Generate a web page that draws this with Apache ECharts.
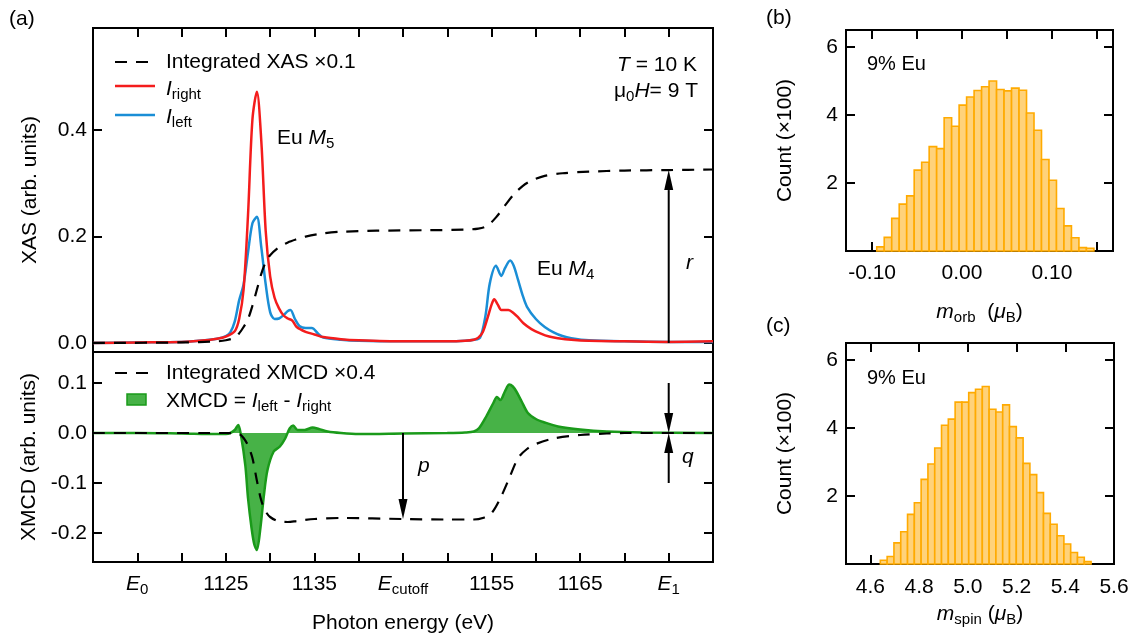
<!DOCTYPE html>
<html>
<head>
<meta charset="utf-8">
<title>Eu M4,5 XAS / XMCD</title>
<script src="https://cdn.jsdelivr.net/npm/echarts@6/dist/echarts.min.js"></script>
<style>
html, body { margin: 0; padding: 0; background: #fff; }
#main { width: 1137px; height: 637px; }
</style>
</head>
<body>
<div id="main"></div>
<script>
// ---- data ----
// (a) top: XAS, [energy eV, value]
const iRight = [
  [1110,0.000],[1115,0.001],[1120,0.002],[1122,0.004],[1124,0.008],[1125,0.012],[1126,0.022],
  [1126.5,0.045],[1127,0.10],[1127.5,0.24],[1128,0.42],[1128.5,0.472],[1129,0.38],[1129.5,0.21],
  [1130,0.125],[1130.5,0.085],[1131,0.065],[1131.5,0.052],[1132,0.046],[1132.5,0.042],[1133,0.030],
  [1134,0.021],[1135,0.016],[1136,0.011],[1138,0.007],[1140,0.005],[1145,0.003],[1150,0.003],
  [1152,0.004],[1153,0.006],[1153.5,0.010],[1154,0.020],[1154.6,0.050],[1155,0.072],[1155.3,0.082],
  [1155.7,0.072],[1156.1,0.062],[1156.5,0.062],[1156.9,0.062],[1157.5,0.056],[1158,0.048],
  [1158.6,0.037],[1159.5,0.026],[1160.5,0.018],[1161.5,0.012],[1162.5,0.009],[1164,0.006],
  [1166,0.004],[1170,0.003],[1175,0.002],[1180,0.003]
];
const iLeft = [
  [1110,0.000],[1115,0.001],[1120,0.002],[1122,0.004],[1124,0.008],[1125,0.013],[1125.5,0.020],
  [1126,0.040],[1126.5,0.080],[1127,0.110],[1127.5,0.170],[1128,0.225],[1128.5,0.237],[1129,0.180],
  [1129.5,0.110],[1130,0.058],[1130.5,0.045],[1131,0.046],[1131.5,0.052],[1132,0.060],[1132.3,0.062],
  [1132.8,0.045],[1133.3,0.032],[1134,0.028],[1134.7,0.028],[1135.5,0.016],[1136,0.010],[1138,0.006],
  [1140,0.004],[1145,0.003],[1150,0.003],[1152,0.004],[1153,0.006],[1153.7,0.010],[1154.3,0.050],
  [1154.8,0.112],[1155.5,0.145],[1156.1,0.126],[1156.5,0.140],[1157.1,0.155],[1157.5,0.145],
  [1158,0.118],[1158.5,0.090],[1159,0.068],[1160,0.045],[1161,0.030],[1162,0.020],[1163,0.013],
  [1164,0.009],[1166,0.005],[1170,0.003],[1175,0.002],[1180,0.002]
];
const intXas = [
  [1110,0.000],[1120,0.001],[1124,0.003],[1125,0.005],[1126,0.010],[1126.5,0.018],[1127,0.030],
  [1127.5,0.045],[1128,0.070],[1128.5,0.100],[1129,0.130],[1129.5,0.152],[1130,0.165],[1131,0.180],
  [1132,0.189],[1133,0.195],[1134,0.200],[1136,0.206],[1138,0.209],[1142,0.211],[1148,0.212],
  [1152,0.213],[1153.5,0.215],[1154.5,0.220],[1155.5,0.236],[1156.5,0.258],[1157.5,0.279],
  [1158.5,0.295],[1159.5,0.305],[1161,0.314],[1163,0.319],[1166,0.322],[1170,0.324],[1175,0.325],
  [1180,0.326]
];
// (a) bottom: XMCD
const xmcd = [
  [1110,0.000],[1115,0.000],[1120,-0.001],[1124,-0.002],[1125,-0.002],[1125.5,0.000],[1126,0.006],
  [1126.4,0.016],[1126.7,-0.004],[1127.2,-0.065],[1127.5,-0.130],[1127.9,-0.190],[1128.2,-0.222],
  [1128.5,-0.234],[1128.9,-0.190],[1129.3,-0.124],[1129.7,-0.074],[1130.4,-0.037],[1131.1,-0.027],
  [1131.7,-0.011],[1132.2,0.009],[1132.6,0.015],[1133.1,0.006],[1133.9,0.006],[1134.8,0.011],
  [1135.5,0.008],[1136.5,0.003],[1138,0.000],[1140,-0.002],[1145,-0.001],[1150,0.000],[1152,0.001],
  [1153,0.003],[1153.6,0.010],[1154.4,0.033],[1155.2,0.060],[1155.6,0.072],[1156,0.066],
  [1156.5,0.083],[1157,0.097],[1157.4,0.093],[1157.8,0.083],[1158.4,0.063],[1159.1,0.040],
  [1160,0.028],[1161,0.021],[1162.5,0.013],[1165,0.007],[1168,0.003],[1172,0.001],[1180,0.000]
];
const intXmcd = [
  [1110,0.000],[1125,0.000],[1126.5,-0.002],[1127,-0.010],[1127.5,-0.025],[1128,-0.050],
  [1128.5,-0.095],[1129,-0.135],[1129.5,-0.157],[1130,-0.168],[1131,-0.177],[1132,-0.178],
  [1133,-0.176],[1135,-0.172],[1138,-0.170],[1145,-0.172],[1150,-0.173],[1153,-0.173],
  [1154,-0.170],[1155,-0.160],[1156,-0.130],[1157,-0.090],[1158,-0.050],[1159,-0.032],
  [1160,-0.022],[1162,-0.011],[1165,-0.004],[1168,-0.001],[1170,0.000],[1180,0.000]
];
// arrows [energy, from, to]
const arrowsXas = [[1175, 0, 0.325]];
const arrowsXmcd = [[1145, 0, -0.172], [1175, 0.1, 0], [1175, -0.1, 0]];

// ticks
const energyTicks = [1115,1120,1125,1130,1135,1140,1145,1150,1155,1160,1165,1170,1175];
const energyLabelValues = [1115,1125,1135,1145,1155,1165,1175];
const energyLabelText = ['{i|E}{s|0}','{n|1125}','{n|1135}','{i|E}{s|cutoff}','{n|1155}','{n|1165}','{i|E}{s|1}'];
const xasTicks = [0, 0.2, 0.4];
const xmcdTicks = [-0.2, -0.1, 0, 0.1];

// (b) m_orb histogram
const orbBinStart = -0.0948;
const orbBinWidth = 0.00833;
const orbCounts = [0.12,0.40,0.96,1.38,1.62,2.38,2.61,3.07,3.01,3.92,3.67,4.29,4.53,4.72,4.83,
  5.00,4.75,4.71,4.79,4.73,4.06,3.55,2.69,2.08,1.25,0.74,0.39,0.10,0.08];
const orbTicks = [-0.1,-0.05,0,0.05,0.1,0.15];
const orbLabels = [-0.1,0,0.1];

// (c) m_spin histogram
const spinBinStart = 4.641;
const spinBinWidth = 0.0279;
const spinCounts = [0.11,0.22,0.62,0.95,1.46,1.80,2.49,2.94,3.41,4.08,4.26,4.76,4.76,5.04,5.14,
  5.22,4.55,4.47,4.68,4.04,3.71,2.96,2.63,2.10,1.49,1.17,0.83,0.59,0.34,0.20,0.07];
const spinTicks = [4.6,4.8,5.0,5.2,5.4];
const spinLabels = [4.6,4.8,5.0,5.2,5.4,5.6];
const countTicks = [2,4,6];

// ---- chart ----
const FONT = 'Liberation Sans';
const FS = 21;
const RED = '#f41c1c', BLUE = '#1a8ed6', GREEN = '#1a9a1a', GREEN_FILL = '#47b247';
const BAR_FILL = '#ffd27a', BAR_LINE = '#ffaa00';

const rich = {
  n: { fontSize: FS, fontFamily: FONT, lineHeight: 26 },
  i: { fontSize: FS, fontFamily: FONT, fontStyle: 'italic', lineHeight: 26 },
  s: { fontSize: 15, fontFamily: FONT, verticalAlign: 'bottom', lineHeight: 15 }
};

const tick = (vals) => ({ show: true, inside: true, length: 9, customValues: vals,
  lineStyle: { color: '#000', width: 2 } });
const noLabel = { show: false };
const base = { type: 'value', axisLine: { show: false, onZero: false }, splitLine: { show: false } };
const nameStyle = { fontSize: FS, fontFamily: FONT, color: '#000', rich: rich };
const labelStyle = { fontSize: FS, fontFamily: FONT, color: '#000' };

const chart = echarts.init(document.getElementById('main'), null, { renderer: 'canvas' });

function histData(start, width, counts) {
  return counts.map((c, i) => [start + i * width, start + (i + 1) * width, c]);
}
function renderBar(params, api) {
  const a = api.coord([api.value(0), api.value(2)]);
  const b = api.coord([api.value(1), 0]);
  return { type: 'rect', shape: { x: a[0], y: a[1], width: b[0] - a[0], height: b[1] - a[1] },
    style: { fill: BAR_FILL, stroke: BAR_LINE, lineWidth: 1.6 } };
}
function renderArrow(params, api) {
  const p0 = api.coord([api.value(0), api.value(1)]);
  const p1 = api.coord([api.value(0), api.value(2)]);
  const dir = p1[1] > p0[1] ? 1 : -1;
  const headLen = 20, hw = 4.5;
  const yb = p1[1] - dir * headLen;
  return { type: 'group', children: [
    { type: 'line', shape: { x1: p0[0], y1: p0[1], x2: p1[0], y2: yb }, style: { stroke: '#000', lineWidth: 2 } },
    { type: 'polygon', shape: { points: [[p1[0], p1[1]], [p1[0] - hw, yb], [p1[0] + hw, yb]] }, style: { fill: '#000' } }
  ] };
}

function txt(x, y, text, extra) {
  return Object.assign({ type: 'text', x: x, y: y, style: Object.assign({
    text: text, fontSize: FS, fontFamily: FONT, fill: '#000', lineHeight: 26,
    align: 'left', verticalAlign: 'middle', textAlign: 'left', textVerticalAlign: 'middle', rich: rich
  }, extra || {}) });
}

const option = {
  animation: false,
  backgroundColor: '#fff',
  textStyle: { fontFamily: FONT },
  grid: [
    { left: 93, top: 28, width: 620, height: 324 },
    { left: 93, top: 352, width: 620, height: 210 },
    { left: 846, top: 30, width: 267, height: 221 },
    { left: 846, top: 343, width: 268, height: 221 }
  ].map(g => Object.assign(g, { show: true, borderColor: '#000', borderWidth: 2,
    containLabel: false, outerBoundsMode: 'none' })),
  xAxis: [
    Object.assign({}, base, { gridIndex: 0, min: 1110, max: 1180, position: 'bottom', axisTick: { show: false }, axisLabel: noLabel }),
    Object.assign({}, base, { gridIndex: 0, min: 1110, max: 1180, position: 'top', axisTick: tick(energyTicks), axisLabel: noLabel }),
    Object.assign({}, base, { gridIndex: 1, min: 1110, max: 1180, position: 'bottom', axisTick: tick(energyTicks),
      axisLabel: Object.assign({}, labelStyle, { customValues: energyLabelValues, margin: 9, rich: rich,
        formatter: v => energyLabelText[energyLabelValues.indexOf(Math.round(v))] || '' }),
      name: 'Photon energy (eV)', nameLocation: 'middle', nameGap: 51, nameTextStyle: nameStyle }),
    Object.assign({}, base, { gridIndex: 2, min: -0.129, max: 0.168, position: 'bottom', axisTick: tick(orbTicks),
      axisLabel: Object.assign({}, labelStyle, { customValues: orbLabels, margin: 12, formatter: v => v.toFixed(2) }),
      name: '{i|m}{s|orb}  ({i|μ}{s|B})', nameLocation: 'middle', nameGap: 48, nameTextStyle: nameStyle }),
    Object.assign({}, base, { gridIndex: 2, min: -0.129, max: 0.168, position: 'top', axisTick: tick(orbTicks), axisLabel: noLabel }),
    Object.assign({}, base, { gridIndex: 3, min: 4.5, max: 5.6, position: 'bottom', axisTick: tick(spinTicks),
      axisLabel: Object.assign({}, labelStyle, { customValues: spinLabels, margin: 13, formatter: v => v.toFixed(1) }),
      name: '{i|m}{s|spin} ({i|μ}{s|B})', nameLocation: 'middle', nameGap: 37, nameTextStyle: nameStyle }),
    Object.assign({}, base, { gridIndex: 3, min: 4.5, max: 5.6, position: 'top', axisTick: tick(spinTicks), axisLabel: noLabel })
  ],
  yAxis: [
    Object.assign({}, base, { gridIndex: 0, min: -0.017, max: 0.592, position: 'left', axisTick: tick(xasTicks),
      axisLabel: Object.assign({}, labelStyle, { customValues: xasTicks, margin: 6, formatter: v => v.toFixed(1) }),
      name: 'XAS (arb. units)', nameLocation: 'middle', nameGap: 52, nameTextStyle: nameStyle }),
    Object.assign({}, base, { gridIndex: 0, min: -0.017, max: 0.592, position: 'right', axisTick: tick(xasTicks), axisLabel: noLabel }),
    Object.assign({}, base, { gridIndex: 1, min: -0.258, max: 0.162, position: 'left', axisTick: tick(xmcdTicks),
      axisLabel: Object.assign({}, labelStyle, { customValues: xmcdTicks, margin: 6, formatter: v => v.toFixed(1) }),
      name: 'XMCD (arb. units)', nameLocation: 'middle', nameGap: 52, nameTextStyle: nameStyle }),
    Object.assign({}, base, { gridIndex: 1, min: -0.258, max: 0.162, position: 'right', axisTick: tick(xmcdTicks), axisLabel: noLabel }),
    Object.assign({}, base, { gridIndex: 2, min: 0, max: 6.5, position: 'left', axisTick: tick(countTicks),
      axisLabel: Object.assign({}, labelStyle, { customValues: countTicks, margin: 8 }),
      name: 'Count (×100)', nameLocation: 'middle', nameGap: 50, nameTextStyle: nameStyle }),
    Object.assign({}, base, { gridIndex: 2, min: 0, max: 6.5, position: 'right', axisTick: tick(countTicks), axisLabel: noLabel }),
    Object.assign({}, base, { gridIndex: 3, min: 0, max: 6.5, position: 'left', axisTick: tick(countTicks),
      axisLabel: Object.assign({}, labelStyle, { customValues: countTicks, margin: 8 }),
      name: 'Count (×100)', nameLocation: 'middle', nameGap: 50, nameTextStyle: nameStyle }),
    Object.assign({}, base, { gridIndex: 3, min: 0, max: 6.5, position: 'right', axisTick: tick(countTicks), axisLabel: noLabel })
  ],
  series: [
    { name: 'I left', type: 'line', xAxisIndex: 0, yAxisIndex: 0, data: iLeft, showSymbol: false, smooth: 0.3,
      lineStyle: { color: BLUE, width: 2.5 }, z: 2 },
    { name: 'I right', type: 'line', xAxisIndex: 0, yAxisIndex: 0, data: iRight, showSymbol: false, smooth: 0.3,
      lineStyle: { color: RED, width: 2.5 }, z: 3 },
    { name: 'Integrated XAS ×0.1', type: 'line', xAxisIndex: 0, yAxisIndex: 0, data: intXas, showSymbol: false, smooth: 0.3,
      lineStyle: { color: '#000', width: 2.2, type: [12, 9] }, z: 4 },
    { name: 'r', type: 'custom', xAxisIndex: 0, yAxisIndex: 0, data: arrowsXas, renderItem: renderArrow,
      encode: { x: 0, y: [1, 2] }, z: 5 },
    { name: 'XMCD', type: 'line', xAxisIndex: 2, yAxisIndex: 2, data: xmcd, showSymbol: false, smooth: 0.3,
      lineStyle: { color: GREEN, width: 2.5 }, areaStyle: { color: GREEN_FILL, opacity: 1, origin: 0 }, z: 2 },
    { name: 'Integrated XMCD ×0.4', type: 'line', xAxisIndex: 2, yAxisIndex: 2, data: intXmcd, showSymbol: false, smooth: 0.3,
      lineStyle: { color: '#000', width: 2.2, type: [12, 9] }, z: 4 },
    { name: 'p q', type: 'custom', xAxisIndex: 2, yAxisIndex: 2, data: arrowsXmcd, renderItem: renderArrow,
      encode: { x: 0, y: [1, 2] }, z: 5 },
    { name: 'm_orb', type: 'custom', xAxisIndex: 3, yAxisIndex: 4, data: histData(orbBinStart, orbBinWidth, orbCounts),
      renderItem: renderBar, encode: { x: [0, 1], y: 2 } },
    { name: 'm_spin', type: 'custom', xAxisIndex: 5, yAxisIndex: 6, data: histData(spinBinStart, spinBinWidth, spinCounts),
      renderItem: renderBar, encode: { x: [0, 1], y: 2 } }
  ],
  graphic: [
    txt(9, 19, '(a)'),
    txt(766, 18, '(b)'),
    txt(766, 326, '(c)'),
    // legend (a) top
    { type: 'line', shape: { x1: 115, y1: 62, x2: 150, y2: 62 }, style: { stroke: '#000', lineWidth: 2.2, lineDash: [12, 9] } },
    txt(166, 62, 'Integrated XAS ×0.1'),
    { type: 'line', shape: { x1: 115, y1: 86, x2: 155, y2: 86 }, style: { stroke: RED, lineWidth: 2.5 } },
    txt(166, 89, '{i|I}{s|right}'),
    { type: 'line', shape: { x1: 115, y1: 115, x2: 155, y2: 115 }, style: { stroke: BLUE, lineWidth: 2.5 } },
    txt(166, 117, '{i|I}{s|left}'),
    // legend (a) bottom
    { type: 'line', shape: { x1: 115, y1: 373, x2: 150, y2: 373 }, style: { stroke: '#000', lineWidth: 2.2, lineDash: [12, 9] } },
    txt(166, 373, 'Integrated XMCD ×0.4'),
    { type: 'rect', shape: { x: 127, y: 394, width: 19, height: 11 }, style: { fill: GREEN_FILL, stroke: GREEN, lineWidth: 1.5 } },
    txt(166, 401, 'XMCD = {i|I}{s|left} - {i|I}{s|right}'),
    // annotations
    txt(697, 65, '{i|T} = 10 K', { align: 'right', textAlign: 'right' }),
    txt(698, 91, 'μ{s|0}{i|H}= 9 T', { align: 'right', textAlign: 'right' }),
    txt(277, 138, 'Eu {i|M}{s|5}'),
    txt(537, 269, 'Eu {i|M}{s|4}'),
    txt(686, 263, '{i|r}'),
    txt(418, 466, '{i|p}'),
    txt(682, 457, '{i|q}'),
    txt(867, 64, '9% Eu', { fontSize: 20 }),
    txt(867, 378, '9% Eu', { fontSize: 20 })
  ]
};

chart.setOption(option);
</script>
</body>
</html>
